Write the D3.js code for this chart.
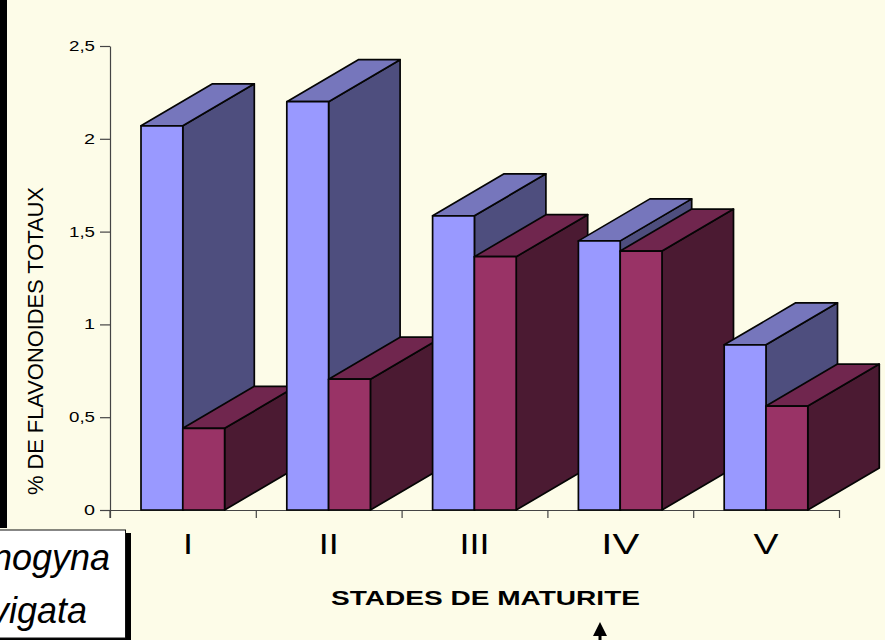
<!DOCTYPE html>
<html>
<head>
<meta charset="utf-8">
<script src="https://cdn.jsdelivr.net/npm/d3@7/dist/d3.min.js"></script>
<style>
html,body{margin:0;padding:0;background:#fdfce8;overflow:hidden}
svg{display:block}
text{font-family:"Liberation Sans",Arial,sans-serif;fill:#000}
</style>
</head>
<body>
<svg id="chart" width="885" height="640"></svg>
<script>
// Total flavonoid content by maturity stage
const stages = ["I", "II", "III", "IV", "V"];
const seriesNames = ["monogyna", "laevigata"];
const monogynaValues = [2.07, 2.2, 1.585, 1.45, 0.89];
const laevigataValues = [0.44, 0.705, 1.365, 1.395, 0.56];
const yTickValues = [0, 0.5, 1, 1.5, 2, 2.5];
const yTickLabels = ["0", "0,5", "1", "1,5", "2", "2,5"];
const palette = [
  {front: "#9999ff", top: "#7676bc", side: "#4e4e7e"},
  {front: "#993366", top: "#70264e", side: "#4b1a32"}
];

const svg = d3.select("#chart");
const plot = {left: 110, right: 839, top: 46, bottom: 510};
const depth = {dx: 71.5, dy: -42};

const y = d3.scaleLinear().domain([0, 2.5]).range([plot.bottom, plot.top]);
const xGroup = d3.scaleBand().domain(stages).range([plot.left, plot.right]);
const xBar = d3.scaleBand().domain(seriesNames).range([31, 114.6]);
const xEdge = d3.scaleLinear().domain([0, stages.length]).range([plot.left, plot.right]);

// Frame pieces around the plot
svg.append("rect").attr("x", 0).attr("y", 0).attr("width", 7).attr("height", 528).attr("fill", "#000");

// Axes
const yAxis = d3.axisLeft(y).tickValues(yTickValues).tickSize(10).tickFormat("");
const xAxis = d3.axisBottom(xEdge).ticks(stages.length).tickSize(8).tickFormat("");
const styleAxis = g => {
  g.selectAll("path").attr("stroke", "#444").attr("stroke-width", 1.2);
  g.selectAll("line").attr("stroke", "#444").attr("stroke-width", 1.2);
};
svg.append("g").attr("transform", `translate(${plot.left},0)`)
  .call(yAxis.tickSizeOuter(0)).call(styleAxis);
svg.append("g").attr("transform", `translate(0,${plot.bottom})`)
  .call(xAxis.tickSizeOuter(0)).call(styleAxis);
svg.append("line")
  .attr("x1", plot.left).attr("x2", plot.left)
  .attr("y1", plot.bottom).attr("y2", plot.bottom + 8)
  .attr("stroke", "#444").attr("stroke-width", 1.2);

// Extruded columns, painted left to right so nearer faces overlap
const poly = pts => pts.map(p => p.join(",")).join(" ");
const columns = [];
stages.forEach((stage, i) => {
  columns.push({stage, series: 0, value: monogynaValues[i]});
  columns.push({stage, series: 1, value: laevigataValues[i]});
});
const col = svg.append("g").selectAll("g").data(columns).join("g")
  .attr("stroke", "#050505").attr("stroke-width", 1.7).attr("stroke-linejoin", "round");
const x0 = d => xGroup(d.stage) + xBar(seriesNames[d.series]);
const x1 = d => x0(d) + xBar.bandwidth();
col.append("polygon").attr("fill", d => palette[d.series].side)
  .attr("points", d => poly([
    [x1(d), y(d.value)], [x1(d) + depth.dx, y(d.value) + depth.dy],
    [x1(d) + depth.dx, y(0) + depth.dy], [x1(d), y(0)]
  ]));
col.append("polygon").attr("fill", d => palette[d.series].top)
  .attr("points", d => poly([
    [x0(d), y(d.value)], [x0(d) + depth.dx, y(d.value) + depth.dy],
    [x1(d) + depth.dx, y(d.value) + depth.dy], [x1(d), y(d.value)]
  ]));
col.append("rect").attr("fill", d => palette[d.series].front)
  .attr("x", x0).attr("y", d => y(d.value))
  .attr("width", xBar.bandwidth()).attr("height", d => y(0) - y(d.value));

// Value axis labels
svg.append("g").selectAll("text").data(yTickValues).join("text")
  .attr("x", 95).attr("y", d => y(d) + 5)
  .attr("text-anchor", "end").attr("font-size", 15)
  .attr("textLength", (d, i) => yTickLabels[i].length === 3 ? 26 : 11)
  .attr("lengthAdjust", "spacingAndGlyphs")
  .text((d, i) => yTickLabels[i]);

svg.append("text")
  .attr("transform", "translate(42.5,495) rotate(-90)")
  .attr("font-size", 22)
  .attr("textLength", 308).attr("lengthAdjust", "spacing")
  .text("% DE FLAVONOIDES TOTAUX");

// Stage labels; the narrow first label sits slightly right of its band centre
svg.append("g").selectAll("text").data(stages).join("text")
  .attr("x", d => xGroup(d) + xGroup.bandwidth() / 2 + (d === "I" ? 5 : 0))
  .attr("y", 554).attr("text-anchor", "middle").attr("font-size", 30)
  .attr("textLength", d => ({I: 10, II: 20, III: 30, IV: 38, V: 25})[d])
  .attr("lengthAdjust", "spacingAndGlyphs")
  .text(d => d);

svg.append("text")
  .attr("x", 331).attr("y", 605)
  .attr("font-size", 21).attr("font-weight", "bold")
  .attr("textLength", 309).attr("lengthAdjust", "spacingAndGlyphs")
  .text("STADES DE MATURITE");

// Arrow under the axis title
svg.append("path")
  .attr("d", d3.line()([[600, 622], [607, 636], [601.5, 636], [601.5, 640], [598.5, 640], [598.5, 636], [593, 636]]) + "Z")
  .attr("fill", "#000");

// Legend box, running off the left edge
svg.append("rect").attr("x", -10).attr("y", 533).attr("width", 141).attr("height", 107).attr("fill", "#000");
svg.append("rect").attr("x", -10).attr("y", 530).attr("width", 135.5).attr("height", 108)
  .attr("fill", "#fff").attr("stroke", "#111").attr("stroke-width", 1);
svg.append("g").selectAll("text").data(seriesNames).join("text")
  .attr("text-anchor", "end").attr("font-style", "italic").attr("font-size", 36)
  .attr("x", (d, i) => i === 0 ? 110 : 87)
  .attr("y", (d, i) => i === 0 ? 570 : 623)
  .text(d => d);
</script>
</body>
</html>
